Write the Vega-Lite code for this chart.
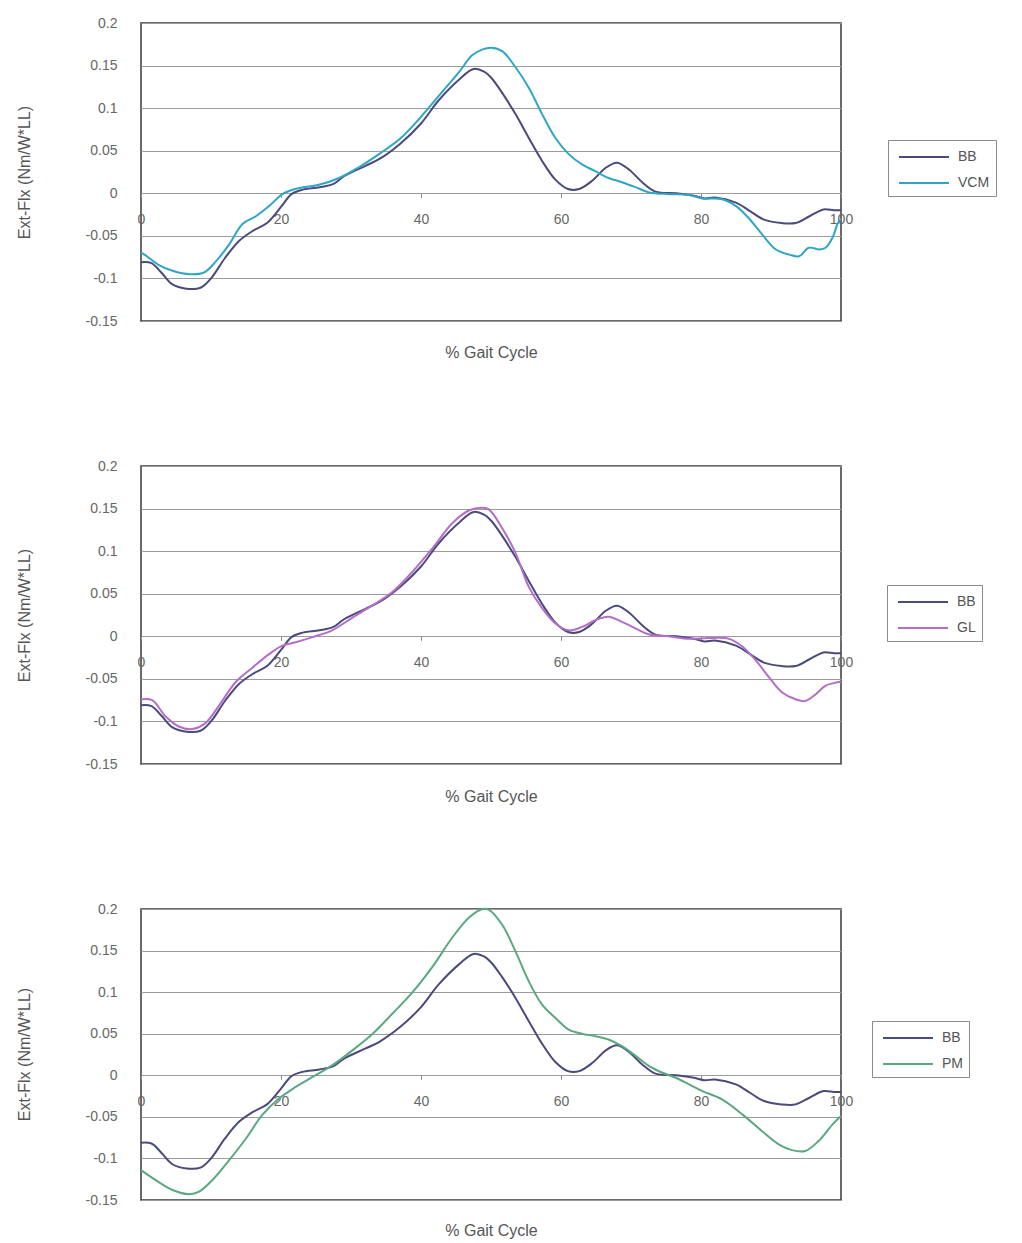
{
  "$schema": "https://vega.github.io/schema/vega-lite/v6.json",
  "padding": {"left": 15, "top": 15, "right": 0, "bottom": 0},
  "background": "white",
  "config": {
    "font": "Liberation Sans",
    "view": {"stroke": "#3a3a3a", "strokeWidth": 1.5},
    "axis": {
      "labelFont": "Liberation Sans",
      "titleFont": "Liberation Sans",
      "labelFontSize": 14,
      "labelColor": "#666666",
      "titleFontSize": 16,
      "titleFontWeight": "normal",
      "titleColor": "#555555"
    },
    "legend": {
      "labelFont": "Liberation Sans",
      "labelFontSize": 14,
      "labelColor": "#555555",
      "strokeColor": "#8a8a8a",
      "fillColor": "white",
      "padding": 6,
      "rowPadding": 8,
      "symbolType": "M-2.5,0H2.5",
      "symbolSize": 400,
      "symbolStrokeWidth": 2,
      "symbolOffset": 19,
      "labelOffset": 23
    }
  },
  "data": {
    "values": [
      {"s": "BB", "pct": 0, "v": -0.081}, {"s": "BB", "pct": 1.5, "v": -0.082}, {"s": "BB", "pct": 3, "v": -0.094},
      {"s": "BB", "pct": 4.5, "v": -0.107}, {"s": "BB", "pct": 6.5, "v": -0.112}, {"s": "BB", "pct": 8.5, "v": -0.111},
      {"s": "BB", "pct": 10, "v": -0.1}, {"s": "BB", "pct": 12, "v": -0.076}, {"s": "BB", "pct": 14, "v": -0.056},
      {"s": "BB", "pct": 16, "v": -0.044}, {"s": "BB", "pct": 18, "v": -0.035}, {"s": "BB", "pct": 20, "v": -0.016},
      {"s": "BB", "pct": 21.5, "v": -0.001}, {"s": "BB", "pct": 23, "v": 0.004}, {"s": "BB", "pct": 25.5, "v": 0.007},
      {"s": "BB", "pct": 27.5, "v": 0.011}, {"s": "BB", "pct": 29, "v": 0.02}, {"s": "BB", "pct": 32, "v": 0.032},
      {"s": "BB", "pct": 34, "v": 0.04}, {"s": "BB", "pct": 37, "v": 0.058}, {"s": "BB", "pct": 40, "v": 0.082},
      {"s": "BB", "pct": 42.5, "v": 0.109}, {"s": "BB", "pct": 45.5, "v": 0.134}, {"s": "BB", "pct": 47.5, "v": 0.146},
      {"s": "BB", "pct": 49, "v": 0.143}, {"s": "BB", "pct": 50, "v": 0.136}, {"s": "BB", "pct": 51.6, "v": 0.118},
      {"s": "BB", "pct": 53.5, "v": 0.093}, {"s": "BB", "pct": 55.4, "v": 0.065}, {"s": "BB", "pct": 57.3, "v": 0.038},
      {"s": "BB", "pct": 59.2, "v": 0.016}, {"s": "BB", "pct": 61, "v": 0.005}, {"s": "BB", "pct": 62.6, "v": 0.005},
      {"s": "BB", "pct": 64.5, "v": 0.015}, {"s": "BB", "pct": 66.4, "v": 0.03}, {"s": "BB", "pct": 68, "v": 0.036},
      {"s": "BB", "pct": 69.7, "v": 0.028}, {"s": "BB", "pct": 71.6, "v": 0.013}, {"s": "BB", "pct": 73.5, "v": 0.002},
      {"s": "BB", "pct": 76.5, "v": 0}, {"s": "BB", "pct": 79, "v": -0.003}, {"s": "BB", "pct": 80.5, "v": -0.006},
      {"s": "BB", "pct": 82, "v": -0.005}, {"s": "BB", "pct": 85, "v": -0.011}, {"s": "BB", "pct": 87, "v": -0.021},
      {"s": "BB", "pct": 89, "v": -0.031}, {"s": "BB", "pct": 91.5, "v": -0.035}, {"s": "BB", "pct": 93.5, "v": -0.035},
      {"s": "BB", "pct": 95.5, "v": -0.027}, {"s": "BB", "pct": 97.5, "v": -0.019}, {"s": "BB", "pct": 99, "v": -0.02},
      {"s": "BB", "pct": 100, "v": -0.02},

      {"s": "VCM", "pct": 0, "v": -0.07}, {"s": "VCM", "pct": 0.5, "v": -0.072}, {"s": "VCM", "pct": 2.5, "v": -0.084},
      {"s": "VCM", "pct": 4.5, "v": -0.091}, {"s": "VCM", "pct": 7, "v": -0.095}, {"s": "VCM", "pct": 9, "v": -0.093},
      {"s": "VCM", "pct": 10.7, "v": -0.08}, {"s": "VCM", "pct": 12.6, "v": -0.06}, {"s": "VCM", "pct": 14.5, "v": -0.036},
      {"s": "VCM", "pct": 16.4, "v": -0.027}, {"s": "VCM", "pct": 18.3, "v": -0.015}, {"s": "VCM", "pct": 20.2, "v": -0.001},
      {"s": "VCM", "pct": 22, "v": 0.005}, {"s": "VCM", "pct": 25.4, "v": 0.01}, {"s": "VCM", "pct": 28.3, "v": 0.018},
      {"s": "VCM", "pct": 31, "v": 0.03}, {"s": "VCM", "pct": 34, "v": 0.046}, {"s": "VCM", "pct": 37, "v": 0.064},
      {"s": "VCM", "pct": 39.7, "v": 0.087}, {"s": "VCM", "pct": 42.6, "v": 0.115}, {"s": "VCM", "pct": 45.4, "v": 0.142},
      {"s": "VCM", "pct": 47.3, "v": 0.162}, {"s": "VCM", "pct": 48.8, "v": 0.169}, {"s": "VCM", "pct": 50, "v": 0.171},
      {"s": "VCM", "pct": 51.6, "v": 0.167}, {"s": "VCM", "pct": 53.5, "v": 0.148}, {"s": "VCM", "pct": 55.4, "v": 0.124},
      {"s": "VCM", "pct": 57.3, "v": 0.093}, {"s": "VCM", "pct": 59.2, "v": 0.065}, {"s": "VCM", "pct": 61.1, "v": 0.046},
      {"s": "VCM", "pct": 63, "v": 0.034}, {"s": "VCM", "pct": 64.9, "v": 0.026}, {"s": "VCM", "pct": 66.8, "v": 0.018},
      {"s": "VCM", "pct": 68.7, "v": 0.013}, {"s": "VCM", "pct": 70.7, "v": 0.007}, {"s": "VCM", "pct": 72.6, "v": 0.001},
      {"s": "VCM", "pct": 75.4, "v": -0.001}, {"s": "VCM", "pct": 78.3, "v": -0.002}, {"s": "VCM", "pct": 80.2, "v": -0.006},
      {"s": "VCM", "pct": 83, "v": -0.007}, {"s": "VCM", "pct": 85, "v": -0.015}, {"s": "VCM", "pct": 86.8, "v": -0.029},
      {"s": "VCM", "pct": 88.7, "v": -0.048}, {"s": "VCM", "pct": 90.7, "v": -0.066}, {"s": "VCM", "pct": 92.6, "v": -0.072},
      {"s": "VCM", "pct": 94, "v": -0.074}, {"s": "VCM", "pct": 95.4, "v": -0.064}, {"s": "VCM", "pct": 96.9, "v": -0.066},
      {"s": "VCM", "pct": 97.8, "v": -0.064}, {"s": "VCM", "pct": 98.8, "v": -0.052}, {"s": "VCM", "pct": 99.5, "v": -0.036},
      {"s": "VCM", "pct": 100, "v": -0.03},

      {"s": "GL", "pct": 0, "v": -0.074}, {"s": "GL", "pct": 1.6, "v": -0.075}, {"s": "GL", "pct": 3.5, "v": -0.094},
      {"s": "GL", "pct": 5.4, "v": -0.106}, {"s": "GL", "pct": 7.3, "v": -0.109}, {"s": "GL", "pct": 9.2, "v": -0.102},
      {"s": "GL", "pct": 11.1, "v": -0.082}, {"s": "GL", "pct": 13.5, "v": -0.054}, {"s": "GL", "pct": 15.9, "v": -0.037},
      {"s": "GL", "pct": 18.3, "v": -0.021}, {"s": "GL", "pct": 20.2, "v": -0.011}, {"s": "GL", "pct": 22.1, "v": -0.007},
      {"s": "GL", "pct": 24.5, "v": -0.001}, {"s": "GL", "pct": 27.3, "v": 0.007}, {"s": "GL", "pct": 30.2, "v": 0.022},
      {"s": "GL", "pct": 33, "v": 0.036}, {"s": "GL", "pct": 35.9, "v": 0.052}, {"s": "GL", "pct": 38.8, "v": 0.076},
      {"s": "GL", "pct": 41.6, "v": 0.103}, {"s": "GL", "pct": 44.5, "v": 0.133}, {"s": "GL", "pct": 46.9, "v": 0.148},
      {"s": "GL", "pct": 48.8, "v": 0.151}, {"s": "GL", "pct": 49.7, "v": 0.149}, {"s": "GL", "pct": 51.6, "v": 0.127},
      {"s": "GL", "pct": 53.5, "v": 0.098}, {"s": "GL", "pct": 55.4, "v": 0.058}, {"s": "GL", "pct": 57.3, "v": 0.033},
      {"s": "GL", "pct": 59.2, "v": 0.015}, {"s": "GL", "pct": 61.1, "v": 0.007}, {"s": "GL", "pct": 63, "v": 0.011},
      {"s": "GL", "pct": 64.9, "v": 0.019}, {"s": "GL", "pct": 66.8, "v": 0.023}, {"s": "GL", "pct": 68.7, "v": 0.017},
      {"s": "GL", "pct": 70.7, "v": 0.009}, {"s": "GL", "pct": 72.6, "v": 0.002}, {"s": "GL", "pct": 75.4, "v": 0},
      {"s": "GL", "pct": 78.3, "v": -0.003}, {"s": "GL", "pct": 81.1, "v": -0.002}, {"s": "GL", "pct": 84, "v": -0.003},
      {"s": "GL", "pct": 85.9, "v": -0.012}, {"s": "GL", "pct": 87.8, "v": -0.028}, {"s": "GL", "pct": 89.7, "v": -0.048},
      {"s": "GL", "pct": 91.6, "v": -0.066}, {"s": "GL", "pct": 93.5, "v": -0.074}, {"s": "GL", "pct": 94.9, "v": -0.076},
      {"s": "GL", "pct": 96.4, "v": -0.068}, {"s": "GL", "pct": 97.8, "v": -0.058}, {"s": "GL", "pct": 99.5, "v": -0.054},
      {"s": "GL", "pct": 100, "v": -0.053},

      {"s": "PM", "pct": 0, "v": -0.114}, {"s": "PM", "pct": 2.1, "v": -0.126}, {"s": "PM", "pct": 4.5, "v": -0.138},
      {"s": "PM", "pct": 6.9, "v": -0.143}, {"s": "PM", "pct": 8.3, "v": -0.14}, {"s": "PM", "pct": 10.2, "v": -0.126},
      {"s": "PM", "pct": 12.6, "v": -0.102}, {"s": "PM", "pct": 15, "v": -0.076}, {"s": "PM", "pct": 17.3, "v": -0.048},
      {"s": "PM", "pct": 19.7, "v": -0.028}, {"s": "PM", "pct": 22.1, "v": -0.014}, {"s": "PM", "pct": 24.5, "v": -0.002},
      {"s": "PM", "pct": 27.3, "v": 0.012}, {"s": "PM", "pct": 30.2, "v": 0.03}, {"s": "PM", "pct": 33.1, "v": 0.05},
      {"s": "PM", "pct": 35.9, "v": 0.074}, {"s": "PM", "pct": 38.8, "v": 0.1}, {"s": "PM", "pct": 41.6, "v": 0.13},
      {"s": "PM", "pct": 44.5, "v": 0.166}, {"s": "PM", "pct": 46.9, "v": 0.19}, {"s": "PM", "pct": 48.8, "v": 0.2},
      {"s": "PM", "pct": 49.7, "v": 0.199}, {"s": "PM", "pct": 51.6, "v": 0.181}, {"s": "PM", "pct": 53.5, "v": 0.149},
      {"s": "PM", "pct": 55.4, "v": 0.113}, {"s": "PM", "pct": 57.3, "v": 0.085}, {"s": "PM", "pct": 59.2, "v": 0.069},
      {"s": "PM", "pct": 61.1, "v": 0.055}, {"s": "PM", "pct": 63, "v": 0.05}, {"s": "PM", "pct": 64.9, "v": 0.047},
      {"s": "PM", "pct": 66.8, "v": 0.043}, {"s": "PM", "pct": 68.7, "v": 0.035}, {"s": "PM", "pct": 70.7, "v": 0.023},
      {"s": "PM", "pct": 72.6, "v": 0.011}, {"s": "PM", "pct": 74.5, "v": 0.003}, {"s": "PM", "pct": 76.4, "v": -0.003},
      {"s": "PM", "pct": 78.3, "v": -0.011}, {"s": "PM", "pct": 80.2, "v": -0.019}, {"s": "PM", "pct": 83, "v": -0.029},
      {"s": "PM", "pct": 85.9, "v": -0.047}, {"s": "PM", "pct": 88.7, "v": -0.067}, {"s": "PM", "pct": 91.1, "v": -0.083},
      {"s": "PM", "pct": 93, "v": -0.09}, {"s": "PM", "pct": 94.9, "v": -0.091}, {"s": "PM", "pct": 96.8, "v": -0.079},
      {"s": "PM", "pct": 98.8, "v": -0.059}, {"s": "PM", "pct": 100, "v": -0.049}
    ]
  },
  "bounds": "flush",
  "spacing": 145,
  "resolve": {"scale": {"color": "independent"}},
  "vconcat": [
    {
      "width": 700,
      "height": 298,
      "transform": [{"filter": "datum.s == 'BB' || datum.s == 'VCM'"}],
      "mark": {"type": "line", "interpolate": "catmull-rom", "strokeWidth": 2},
      "encoding": {
        "x": {
          "field": "pct", "type": "quantitative",
          "scale": {"domain": [0, 100], "nice": false},
          "axis": {"title": "% Gait Cycle", "values": [0, 20, 40, 60, 80, 100], "offset": -127.71, "domain": false, "grid": false,
            "tickSize": 4, "tickColor": "#888888", "labelPadding": 15, "labelBaseline": "top", "labelFlush": false,
            "titleX": 350, "titleY": 159, "titleBaseline": "middle", "titleAlign": "center"}
        },
        "y": {
          "field": "v", "type": "quantitative",
          "scale": {"domain": [-0.15, 0.2], "nice": false, "zero": false},
          "axis": {"title": "Ext-Flx (Nm/W*LL)", "values": [-0.15, -0.1, -0.05, 0, 0.05, 0.1, 0.15, 0.2],
            "labelExpr": "'' + round(datum.value * 100) / 100", "domain": false, "ticks": false, "labelPadding": 24,
            "grid": true, "gridColor": "#9c9c9c", "gridWidth": 1, "labelFlush": false,
            "titleX": -117, "titleY": 149, "titleAngle": -90, "titleBaseline": "middle", "titleAlign": "center"}
        },
        "color": {
          "field": "s", "type": "nominal",
          "scale": {"domain": ["BB", "VCM"], "range": ["#4a4a7c", "#2fa6c6"]},
          "legend": {"title": null, "orient": "none", "legendX": 747, "legendY": 117}
        }
      }
    },
    {
      "width": 700,
      "height": 298,
      "transform": [{"filter": "datum.s == 'BB' || datum.s == 'GL'"}],
      "mark": {"type": "line", "interpolate": "catmull-rom", "strokeWidth": 2},
      "encoding": {
        "x": {
          "field": "pct", "type": "quantitative",
          "scale": {"domain": [0, 100], "nice": false},
          "axis": {"title": "% Gait Cycle", "values": [0, 20, 40, 60, 80, 100], "offset": -127.71, "domain": false, "grid": false,
            "tickSize": 4, "tickColor": "#888888", "labelPadding": 15, "labelBaseline": "top", "labelFlush": false,
            "titleX": 350, "titleY": 160, "titleBaseline": "middle", "titleAlign": "center"}
        },
        "y": {
          "field": "v", "type": "quantitative",
          "scale": {"domain": [-0.15, 0.2], "nice": false, "zero": false},
          "axis": {"title": "Ext-Flx (Nm/W*LL)", "values": [-0.15, -0.1, -0.05, 0, 0.05, 0.1, 0.15, 0.2],
            "labelExpr": "'' + round(datum.value * 100) / 100", "domain": false, "ticks": false, "labelPadding": 24,
            "grid": true, "gridColor": "#9c9c9c", "gridWidth": 1, "labelFlush": false,
            "titleX": -117, "titleY": 149, "titleAngle": -90, "titleBaseline": "middle", "titleAlign": "center"}
        },
        "color": {
          "field": "s", "type": "nominal",
          "scale": {"domain": ["BB", "GL"], "range": ["#4a4a7c", "#b46ec8"]},
          "legend": {"title": null, "orient": "none", "legendX": 746, "legendY": 119}
        }
      }
    },
    {
      "width": 700,
      "height": 291,
      "transform": [{"filter": "datum.s == 'BB' || datum.s == 'PM'"}],
      "mark": {"type": "line", "interpolate": "catmull-rom", "strokeWidth": 2},
      "encoding": {
        "x": {
          "field": "pct", "type": "quantitative",
          "scale": {"domain": [0, 100], "nice": false},
          "axis": {"title": "% Gait Cycle", "values": [0, 20, 40, 60, 80, 100], "offset": -124.71, "domain": false, "grid": false,
            "tickSize": 4, "tickColor": "#888888", "labelPadding": 15, "labelBaseline": "top", "labelFlush": false,
            "titleX": 350, "titleY": 155, "titleBaseline": "middle", "titleAlign": "center"}
        },
        "y": {
          "field": "v", "type": "quantitative",
          "scale": {"domain": [-0.15, 0.2], "nice": false, "zero": false},
          "axis": {"title": "Ext-Flx (Nm/W*LL)", "values": [-0.15, -0.1, -0.05, 0, 0.05, 0.1, 0.15, 0.2],
            "labelExpr": "'' + round(datum.value * 100) / 100", "domain": false, "ticks": false, "labelPadding": 24,
            "grid": true, "gridColor": "#9c9c9c", "gridWidth": 1, "labelFlush": false,
            "titleX": -117, "titleY": 145, "titleAngle": -90, "titleBaseline": "middle", "titleAlign": "center"}
        },
        "color": {
          "field": "s", "type": "nominal",
          "scale": {"domain": ["BB", "PM"], "range": ["#4a4a7c", "#5aa882"]},
          "legend": {"title": null, "orient": "none", "legendX": 731, "legendY": 112}
        }
      }
    }
  ]
}
